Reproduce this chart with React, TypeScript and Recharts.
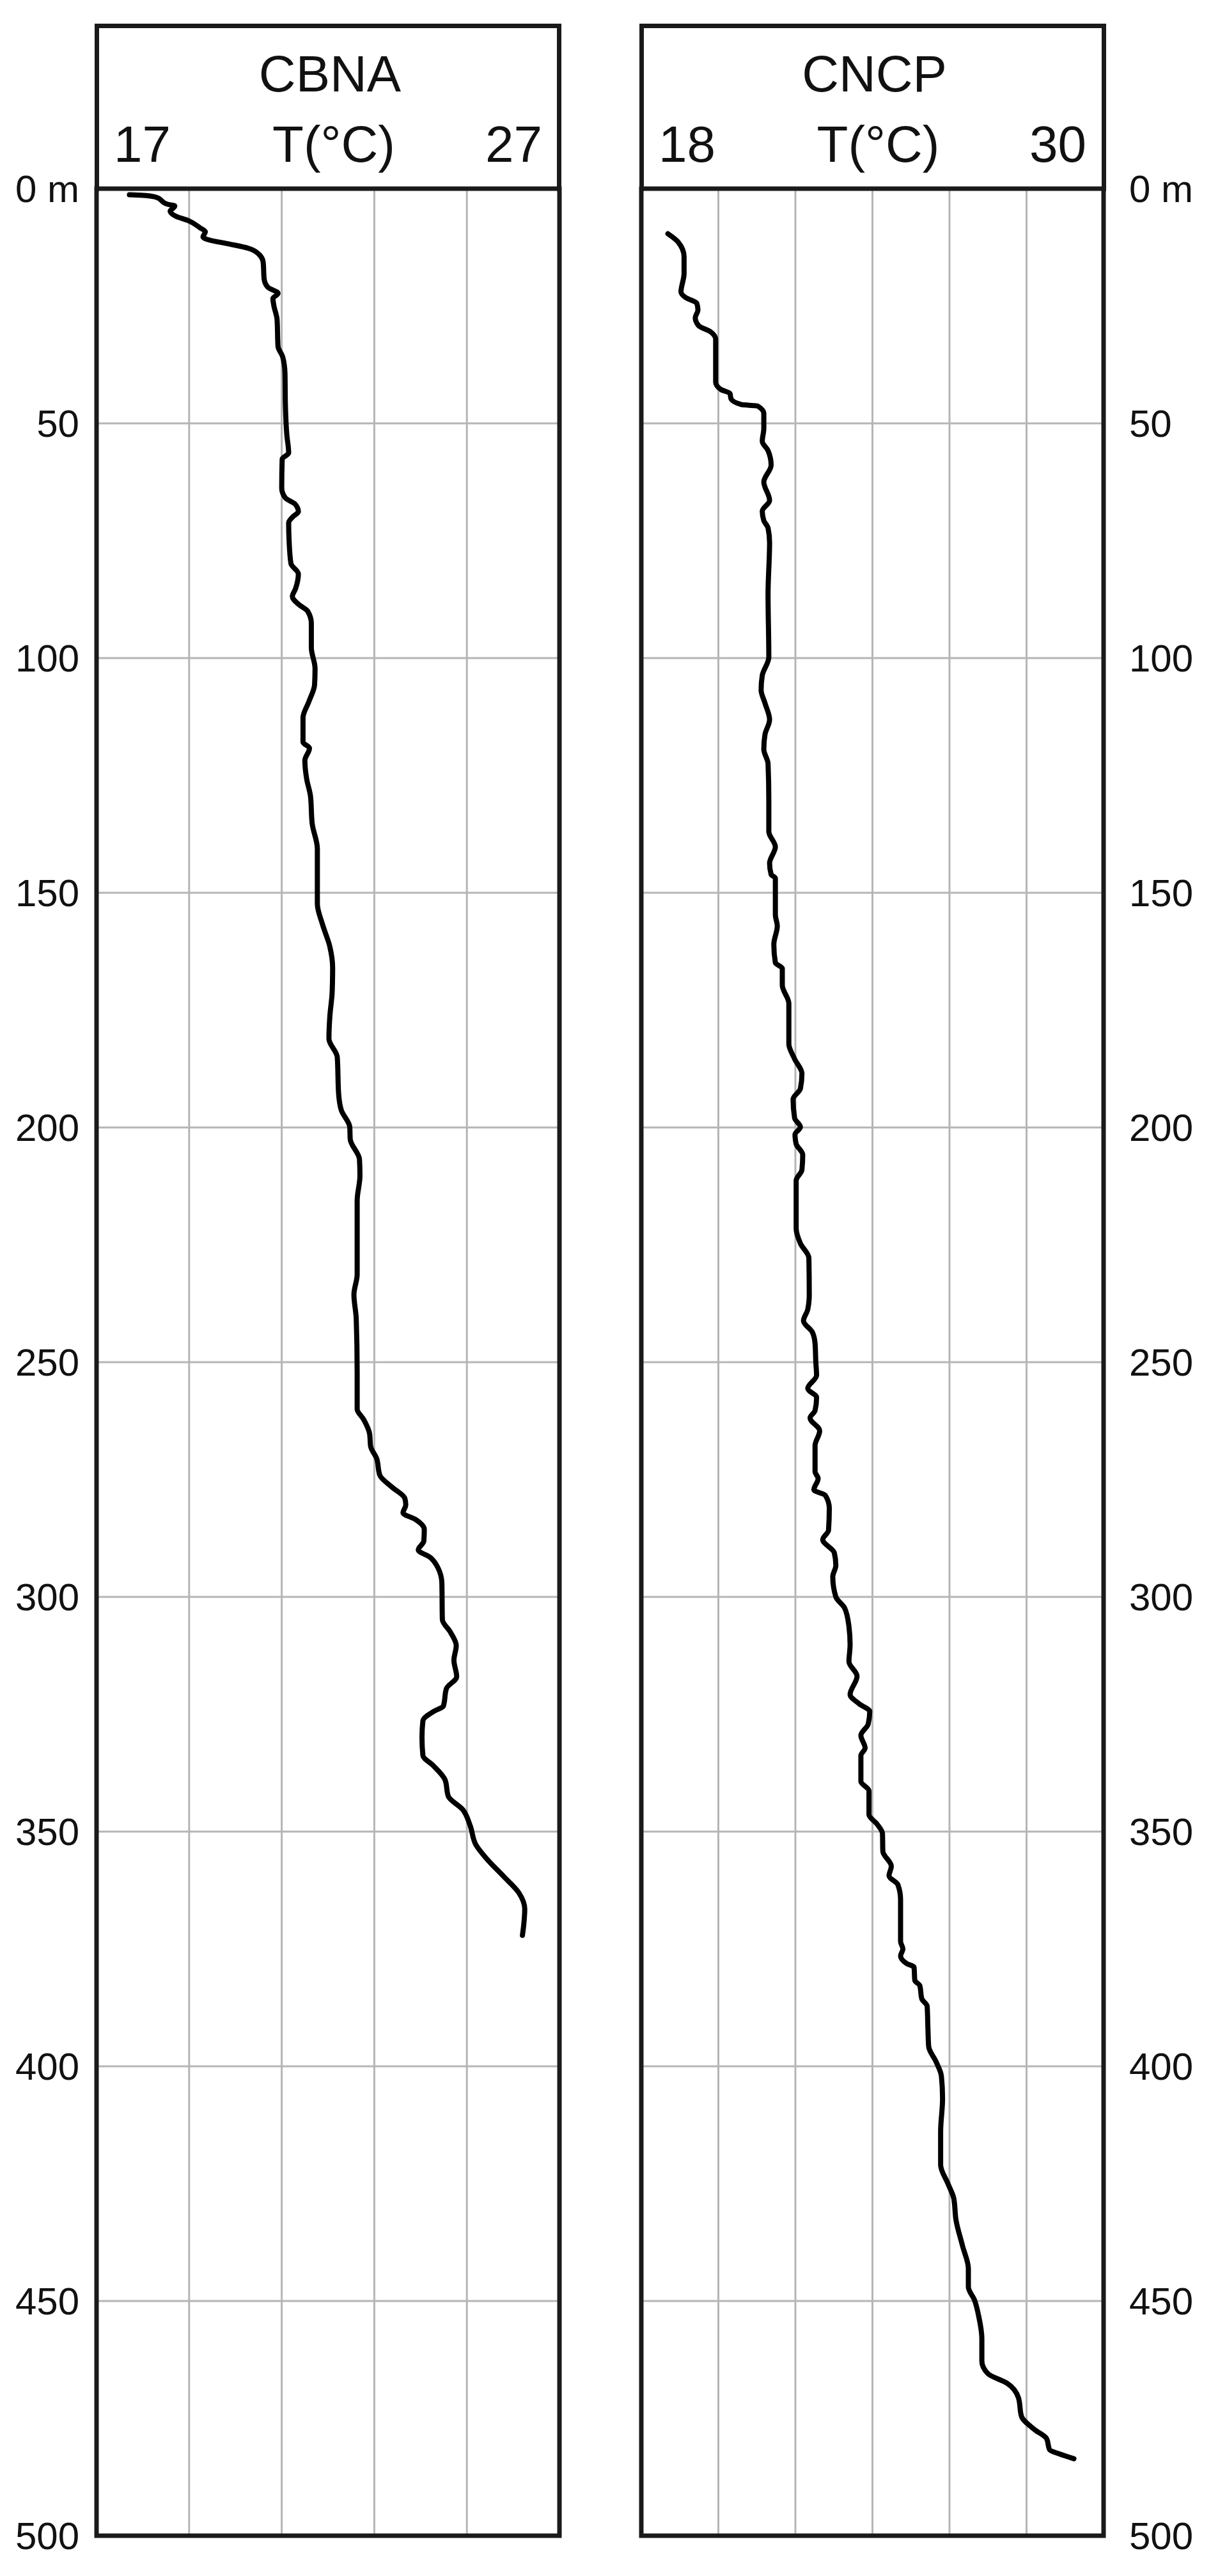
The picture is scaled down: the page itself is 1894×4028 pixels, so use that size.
import { LineChart, Line, XAxis, YAxis, CartesianGrid, ReferenceArea } from 'recharts';

// CBNA profile: depth (m) and temperature (°C)
const cbnaDepth = [
  1.3, 1.4, 1.8, 3.3, 3.7, 4.8, 5.9, 6.8, 8.3, 9.2, 10.3, 10.9, 11.8, 12.7, 14.0, 15.7, 19.2, 21.0, 22.3, 23.4,
  24.9, 27.9, 33.6, 35.8, 39.3, 46.3, 52.4, 56.3, 57.6, 63.8, 65.9, 67.2, 68.8, 69.9, 71.2, 75.1, 79.9, 82.1, 85.2, 86.9,
  88.6, 90.0, 92.6, 97.8, 102.2, 105.7, 109.2, 112.7, 117.9, 119.2, 121.8, 125.8, 129.3, 135.4, 140.6, 152.4, 156.7, 161.5, 165.9, 171.1,
  176.3, 181.1, 185.0, 192.9, 196.4, 199.9, 202.5, 206.8, 210.3, 215.6, 231.3, 235.6, 240.8, 252.2, 260.0, 262.2, 265.3, 267.9, 270.5, 274.1,
  276.6, 279.0, 280.4, 282.1, 283.5, 285.6, 288.1, 290.0, 291.6, 293.7, 297.1, 304.8, 307.6, 310.4, 313.5, 317.0, 319.5, 323.3, 324.3, 326.4,
  329.9, 333.8, 335.9, 339.0, 342.5, 345.3, 348.7, 352.9, 355.7, 359.6, 363.0, 366.5, 369.7, 372.1,
];
const cbnaTemp = [
  17.71, 17.96, 18.28, 18.53, 18.69, 18.59, 18.72, 18.98, 19.23, 19.35, 19.3, 19.42, 19.87, 20.28, 20.51, 20.6, 20.62, 20.7, 20.92, 20.81,
  20.83, 20.9, 20.92, 21.02, 21.07, 21.08, 21.11, 21.15, 21.01, 21.0, 21.08, 21.29, 21.36, 21.24, 21.15, 21.16, 21.2, 21.36, 21.3, 21.23,
  21.37, 21.56, 21.64, 21.64, 21.72, 21.71, 21.59, 21.46, 21.46, 21.6, 21.5, 21.54, 21.62, 21.66, 21.77, 21.77, 21.88, 22.04, 22.1, 22.09,
  22.04, 22.02, 22.2, 22.23, 22.29, 22.47, 22.48, 22.68, 22.69, 22.63, 22.63, 22.56, 22.61, 22.63, 22.63, 22.77, 22.9, 22.92, 23.05, 23.12,
  23.38, 23.66, 23.68, 23.62, 23.89, 24.08, 24.07, 23.95, 24.21, 24.37, 24.46, 24.47, 24.65, 24.77, 24.72, 24.78, 24.56, 24.49, 24.3, 24.05,
  24.03, 24.05, 24.27, 24.53, 24.6, 24.91, 25.07, 25.2, 25.42, 25.8, 26.12, 26.25, 26.23, 26.2,
];

// CNCP profile: depth (m) and temperature (°C)
const cncpDepth = [
  9.6, 11.4, 14.5, 18.1, 22.0, 23.2, 24.4, 25.9, 27.5, 29.2, 30.5, 32.1, 41.2, 42.8, 43.6, 44.8, 46.0, 46.3, 47.9, 51.1,
  53.8, 55.8, 58.9, 62.5, 66.4, 68.7, 70.7, 72.3, 75.4, 86.4, 99.8, 103.7, 106.8, 109.6, 113.1, 116.3, 119.4, 122.5, 130.3, 137.0,
  140.2, 143.7, 146.1, 146.9, 154.7, 157.1, 161.0, 164.9, 166.1, 169.7, 173.6, 182.2, 185.4, 188.5, 191.7, 194.0, 198.0, 199.9, 201.5, 203.5,
  205.8, 209.0, 211.3, 221.5, 224.7, 227.8, 235.7, 238.8, 241.2, 243.6, 246.0, 250.0, 252.8, 255.6, 257.5, 260.3, 261.9, 264.6, 267.8, 273.3,
  274.8, 277.2, 278.4, 281.1, 285.8, 287.8, 290.6, 293.3, 295.7, 300.0, 302.4, 306.3, 310.2, 313.8, 316.9, 320.8, 322.8, 324.4, 327.1, 329.5,
  332.2, 333.8, 339.3, 341.3, 346.4, 348.4, 350.4, 354.2, 357.4, 359.4, 361.3, 364.5, 373.4, 375.0, 376.5, 378.1, 378.9, 381.7, 382.8, 385.6,
  387.2, 391.9, 395.8, 399.0, 402.1, 406.9, 413.9, 421.0, 425.0, 428.1, 432.8, 438.3, 443.1, 447.0, 449.8, 453.3, 458.0, 462.8, 465.5, 467.5,
  470.6, 474.6, 477.4, 479.3, 481.7, 482.6, 483.6,
];
const cncpTemp = [
  18.69, 18.96, 19.11, 19.11, 19.03, 19.15, 19.44, 19.47, 19.4, 19.49, 19.8, 19.93, 19.93, 20.07, 20.3, 20.33, 20.6, 21.02, 21.18, 21.18,
  21.14, 21.29, 21.37, 21.18, 21.33, 21.14, 21.18, 21.29, 21.33, 21.29, 21.31, 21.14, 21.11, 21.21, 21.33, 21.21, 21.18, 21.29, 21.31, 21.31,
  21.48, 21.33, 21.37, 21.48, 21.48, 21.53, 21.44, 21.48, 21.66, 21.66, 21.83, 21.83, 21.98, 22.17, 22.13, 21.94, 21.98, 22.13, 21.99, 22.02,
  22.19, 22.17, 22.02, 22.02, 22.13, 22.35, 22.36, 22.32, 22.21, 22.44, 22.51, 22.53, 22.55, 22.32, 22.55, 22.51, 22.38, 22.63, 22.51, 22.51,
  22.59, 22.48, 22.78, 22.88, 22.86, 22.71, 23.01, 23.05, 22.97, 23.05, 23.28, 23.39, 23.42, 23.39, 23.6, 23.42, 23.66, 23.93, 23.89, 23.7,
  23.81, 23.7, 23.7, 23.91, 23.91, 24.12, 24.26, 24.27, 24.49, 24.43, 24.66, 24.73, 24.73, 24.79, 24.73, 24.89, 25.08, 25.1, 25.23, 25.28,
  25.42, 25.44, 25.46, 25.65, 25.79, 25.82, 25.77, 25.77, 25.96, 26.11, 26.17, 26.34, 26.49, 26.49, 26.65, 26.76, 26.84, 26.84, 27.0, 27.49,
  27.79, 27.87, 28.21, 28.52, 28.6, 28.86, 29.23,
];

const depthTicks = [0, 50, 100, 150, 200, 250, 300, 350, 400, 450, 500];
const cbnaTicks = [17, 19, 21, 23, 25, 27];
const cncpTicks = [18, 20, 22, 24, 26, 28, 30];

const cbnaData = cbnaDepth.map((depth, i) => ({ depth, temp: cbnaTemp[i] }));
const cncpData = cncpDepth.map((depth, i) => ({ depth, temp: cncpTemp[i] }));

const FONT = '"Liberation Sans", Arial, Helvetica, sans-serif';
const INK = '#111';
const FRAME = '#1a1a1a';
const GRID = '#b5b5b5';

const depthLabel = (v: number) => (v === 0 ? '0 m' : String(v));

function makeHeaderTick(lo: number, hi: number) {
  return (props: any) => {
    const { x, y, payload } = props;
    if (payload.value !== lo && payload.value !== hi) return <g />;
    const first = payload.value === lo;
    return (
      <text x={x + (first ? 27 : -27)} y={y - 42} textAnchor={first ? 'start' : 'end'}
        fontSize={80} fontFamily={FONT} fill={INK}>
        {payload.value}
      </text>
    );
  };
}

function makeHeaderLabel(title: string) {
  return (props: any) => {
    const vb = props.viewBox;
    const cx = vb.x + vb.width / 2;
    const bottom = vb.y + vb.height;
    return (
      <g>
        <text x={cx + 3} y={bottom - 152} textAnchor="middle" fontSize={80} fontFamily={FONT} fill={INK}>{title}</text>
        <text x={cx + 9} y={bottom - 42} textAnchor="middle" fontSize={80} fontFamily={FONT} fill={INK}>T(°C)</text>
      </g>
    );
  };
}

function Panel({ data, title, domain, ticks, side }: {
  data: { depth: number; temp: number }[]; title: string; domain: [number, number]; ticks: number[]; side: 'left' | 'right';
}) {
  const left = side === 'left';
  return (
    <LineChart width={left ? 950 : 944} height={4028} layout="vertical" data={data}
      margin={left ? { top: 37, right: 75, bottom: 63, left: 0 } : { top: 37, right: 0, bottom: 63, left: 53 }}>
      <CartesianGrid stroke={GRID} strokeWidth={3} />
      <XAxis type="number" orientation="top" domain={domain} ticks={ticks} interval={0} height={258}
        allowDataOverflow axisLine={false} tickLine={false} tickSize={0} tickMargin={0}
        tick={makeHeaderTick(domain[0], domain[1])} label={{ content: makeHeaderLabel(title) }} />
      <YAxis type="number" dataKey="depth" orientation={side} domain={[0, 500]} ticks={depthTicks} interval={0}
        width={left ? 151 : 168} axisLine={false} tickLine={false} tickSize={0} tickMargin={left ? 27 : 40}
        tickFormatter={depthLabel} tick={{ fontSize: 60, fontFamily: FONT, fill: INK }} />
      <Line type="monotone" dataKey="temp" stroke="#000" strokeWidth={8} strokeLinejoin="round" strokeLinecap="round"
        dot={false} activeDot={false} isAnimationActive={false} />
      <ReferenceArea x1={domain[0]} x2={domain[1]} y1={0} y2={500} fill="none" stroke={FRAME} strokeWidth={7}
        ifOverflow="visible" />
    </LineChart>
  );
}

const headerBox = (left: number): React.CSSProperties => ({
  position: 'absolute', left, top: 37, width: 730, height: 262, boxSizing: 'border-box',
  border: `7px solid ${FRAME}`, borderBottom: 'none', pointerEvents: 'none',
});

export default function App() {
  return (
    <div style={{ position: 'absolute', left: 0, top: 0, width: 1894, height: 4028, background: '#fff', fontFamily: FONT }}>
      <div style={{ position: 'absolute', left: 0, top: 0 }}>
        <Panel data={cbnaData} title="CBNA" domain={[17, 27]} ticks={cbnaTicks} side="left" />
      </div>
      <div style={{ position: 'absolute', left: 950, top: 0 }}>
        <Panel data={cncpData} title="CNCP" domain={[18, 30]} ticks={cncpTicks} side="right" />
      </div>
      <div style={headerBox(148)} />
      <div style={headerBox(1000)} />
    </div>
  );
}
